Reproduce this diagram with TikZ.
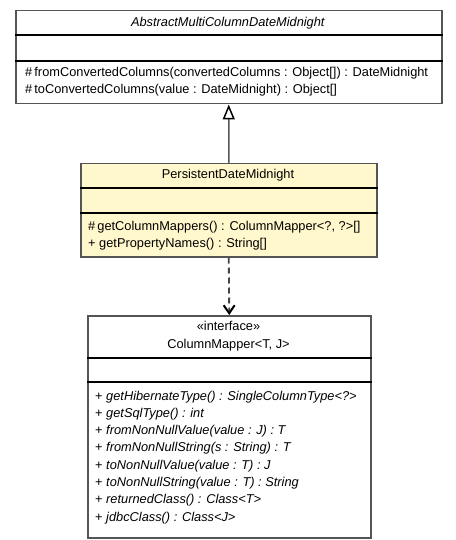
\documentclass[tikz,border=0pt]{standalone}
\usepackage{fontspec}
\setmainfont{Liberation Sans}
\usepackage{tikz}
\usetikzlibrary{calc}
\usetikzlibrary{arrows.meta}
\usepackage{xcolor}
\definecolor{umlyellow}{HTML}{FFF8CC}
\definecolor{umlgray}{HTML}{555555}

\begin{document}
\begin{tikzpicture}[x=1bp, y=-1bp]
        % ================= styles =================
        \tikzset{
            % class box outline
            classbox/.style={rectangle, draw=umlgray, line width=1.5bp, inner sep=0pt, anchor=north west},
            % compartment separator
            sepline/.style={line width=1.5bp, black},
            % text in boxes
            titletext/.style={inner sep=0pt, anchor=base, font=\fontsize{12.8bp}{15bp}\selectfont},
            optext/.style={inner sep=0pt, anchor=base west, font=\fontsize{12.8bp}{15bp}\selectfont},
            % connectors
            gen_edge/.style={line width=1.5bp, umlgray, -{Triangle[open, length=15bp, width=12bp, line width=1.5bp, black]}},
            dep_edge/.style={line width=1.8bp, umlgray!80!black, dash pattern=on 6bp off 4bp, -{Straight Barb[length=8bp, width=11bp, line width=2bp, black]}}
        }
        \useasboundingbox (0,0) rectangle (456,540);

        % ================= class boxes =================
        \node[classbox, minimum width=426bp, minimum height=93bp] (abstract) at (15,10) {};
        \node[classbox, fill=umlyellow, minimum width=296bp, minimum height=93bp] (persist) at (80,163) {};
        \node[classbox, minimum width=283bp, minimum height=222bp] (mapper) at (87,315) {};

        % ================= compartments =================
        \draw[sepline] ($(abstract.north west)+(0,25)$) -- ($(abstract.north east)+(0,25)$);
        \draw[sepline] ($(abstract.north west)+(0,51)$) -- ($(abstract.north east)+(0,51)$);
        \draw[sepline] ($(persist.north west)+(0,25)$) -- ($(persist.north east)+(0,25)$);
        \draw[sepline] ($(persist.north west)+(0,50)$) -- ($(persist.north east)+(0,50)$);
        \draw[sepline] ($(mapper.north west)+(0,43)$) -- ($(mapper.north east)+(0,43)$);
        \draw[sepline] ($(mapper.north west)+(0,67)$) -- ($(mapper.north east)+(0,67)$);

        % ================= AbstractMultiColumnDateMidnight =================
        \node[titletext] (abstract_name) at (228,27) {\textit{AbstractMultiColumnDateMidnight}};
        \node[optext] (abstract_op1) at (25,77) {\#\,fromConvertedColumns(convertedColumns : Object[]) : DateMidnight};
        \node[optext] (abstract_op2) at (25,94) {\#\,toConvertedColumns(value : DateMidnight) : Object[]};

        % ================= PersistentDateMidnight =================
        \node[titletext] (persist_name) at (228,179) {PersistentDateMidnight};
        \node[optext] (persist_op1) at (88,230) {\#\,getColumnMappers() : ColumnMapper<?, ?>[]};
        \node[optext] (persist_op2) at (88,247) {+ getPropertyNames() : String[]};

        % ================= ColumnMapper =================
        \node[titletext] (mapper_stereo) at (228.5,330) {«interface»};
        \node[titletext] (mapper_name) at (228.5,348) {ColumnMapper<T, J>};
        \node[optext] (mapper_op1) at (95,400) {+ \textit{getHibernateType() : SingleColumnType<?>}};
        \node[optext] (mapper_op2) at (95,417.3) {+ \textit{getSqlType() : int}};
        \node[optext] (mapper_op3) at (95,434.6) {+ \textit{fromNonNullValue(value : J) : T}};
        \node[optext] (mapper_op4) at (95,451.9) {+ \textit{fromNonNullString(s : String) : T}};
        \node[optext] (mapper_op5) at (95,469.2) {+ \textit{toNonNullValue(value : T) : J}};
        \node[optext] (mapper_op6) at (95,486.5) {+ \textit{toNonNullString(value : T) : String}};
        \node[optext] (mapper_op7) at (95,503.8) {+ \textit{returnedClass() : Class<T>}};
        \node[optext] (mapper_op8) at (95,521.1) {+ \textit{jdbcClass() : Class<J>}};

        % ================= relations =================
        % generalization: PersistentDateMidnight -> AbstractMultiColumnDateMidnight
        \draw[gen_edge] (persist.north) -- (abstract.south);
        % dependency: PersistentDateMidnight -> ColumnMapper
        \draw[dep_edge] (persist.south) -- (mapper.north);

    \end{tikzpicture}
\end{document}
